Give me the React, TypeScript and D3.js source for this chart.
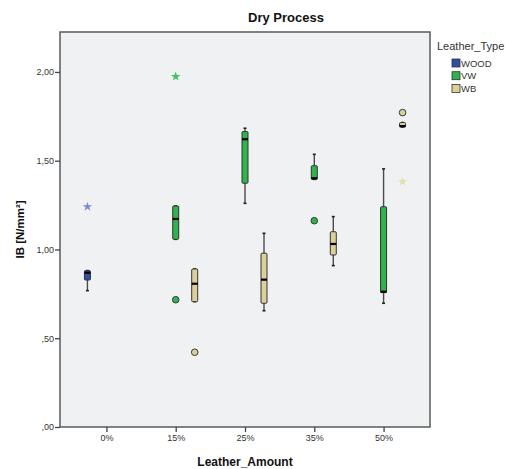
import React, { useRef, useEffect } from "react";
import * as d3 from "d3";

const categories = ["0%", "15%", "25%", "35%", "50%"];
const leatherTypes = ["WOOD", "VW", "WB"];
const yTicks = [0, 0.5, 1.0, 1.5, 2.0];

// [min, q1, median, q3, max] per category, null = no box
const woodBoxes = [[0.768, 0.828, 0.869, 0.881, 0.881], null, null, null, null];
const vwBoxes = [
  null,
  [1.057, 1.057, 1.172, 1.245, 1.245],
  [1.26, 1.373, 1.621, 1.664, 1.683],
  [1.395, 1.395, 1.401, 1.472, 1.536],
  [0.697, 0.757, 0.762, 1.241, 1.454],
];
const wbBoxes = [
  null,
  [0.706, 0.706, 0.807, 0.89, 0.89],
  [0.655, 0.697, 0.83, 0.979, 1.091],
  [0.909, 0.969, 1.031, 1.1, 1.185],
  [1.69, 1.69, 1.695, 1.715, 1.715],
];

const woodOutliers = [{ cat: "0%", value: 1.241, mark: "star" }];
const vwOutliers = [
  { cat: "15%", value: 1.974, mark: "star" },
  { cat: "15%", value: 0.717, mark: "circle" },
  { cat: "35%", value: 1.162, mark: "circle" },
];
const wbOutliers = [
  { cat: "15%", value: 0.421, mark: "circle" },
  { cat: "50%", value: 1.771, mark: "circle" },
  { cat: "50%", value: 1.382, mark: "star" },
];

const fills = { WOOD: "#2f4fa3", VW: "#2fb34b", WB: "#d9d09a" };
const starFills = { WOOD: "#7b88d6", VW: "#3fc45f", WB: "#e3dfae" };

const App = () => {
  const svgRef = useRef(null);

  useEffect(() => {
    const svg = d3.select(svgRef.current);
    svg.selectAll("*").remove();
    const left = 60,
      right = 430,
      top = 32,
      bottom = 427;

    const x = d3.scalePoint().domain(categories).range([left, right]).padding(0.67);
    const sub = d3.scalePoint().domain(leatherTypes).range([-19, 19]);
    const y = d3.scaleLinear().domain([0, 2.225]).range([bottom, top]);

    // plot background
    svg
      .append("rect")
      .attr("x", left)
      .attr("y", top)
      .attr("width", right - left)
      .attr("height", bottom - top)
      .attr("fill", "#f0f1f3")
      .attr("stroke", "#5a5a5a")
      .attr("stroke-width", 1.5);

    const fmt = (d) => {
      let s = d.toFixed(2).replace(".", ",");
      if (s.startsWith("0,")) s = s.slice(1);
      return s;
    };

    // Y axis
    const yAxis = svg
      .append("g")
      .attr("transform", `translate(${left},0)`)
      .call(d3.axisLeft(y).tickValues(yTicks).tickFormat(fmt).tickSize(5).tickSizeOuter(0));
    yAxis.select(".domain").remove();
    yAxis.selectAll("line").attr("stroke", "#444").attr("stroke-width", 1.3);
    yAxis
      .selectAll("text")
      .attr("font-family", "Arial, 'Liberation Sans', sans-serif")
      .attr("font-size", 9)
      .attr("fill", "#333")
      .attr("x", -6);

    // X axis
    const xAxis = svg
      .append("g")
      .attr("transform", `translate(0,${bottom})`)
      .call(d3.axisBottom(x).tickSize(5).tickSizeOuter(0));
    xAxis.select(".domain").remove();
    xAxis.selectAll("line").attr("stroke", "#444").attr("stroke-width", 1.3);
    xAxis
      .selectAll("text")
      .attr("font-family", "Arial, 'Liberation Sans', sans-serif")
      .attr("font-size", 9)
      .attr("fill", "#333")
      .attr("y", 8);

    const series = [
      { type: "WOOD", boxes: woodBoxes, outliers: woodOutliers },
      { type: "VW", boxes: vwBoxes, outliers: vwOutliers },
      { type: "WB", boxes: wbBoxes, outliers: wbOutliers },
    ];
    const bw = 6;

    series.forEach((s) => {
      s.boxes.forEach((b, i) => {
        if (!b) return;
        const cx = x(categories[i]) + sub(s.type);
        const [mn, q1, md, q3, mx] = b;
        const g = svg.append("g");
        // whiskers
        [
          [mn, q1],
          [q3, mx],
        ].forEach(([a, c]) => {
          if (c - a < 0.001) return;
          g.append("line")
            .attr("x1", cx)
            .attr("x2", cx)
            .attr("y1", y(a))
            .attr("y2", y(c))
            .attr("stroke", "#4a4a4a")
            .attr("stroke-width", 1.4);
        });
        [mn, mx].forEach((v) => {
          g.append("line")
            .attr("x1", cx - 1.5)
            .attr("x2", cx + 1.5)
            .attr("y1", y(v))
            .attr("y2", y(v))
            .attr("stroke", "#222")
            .attr("stroke-width", 1.6);
        });
        g.append("rect")
          .attr("x", cx - bw / 2)
          .attr("y", y(q3))
          .attr("width", bw)
          .attr("height", Math.max(y(q1) - y(q3), 1))
          .attr("rx", 1)
          .attr("fill", fills[s.type])
          .attr("stroke", "#333")
          .attr("stroke-width", 1);
        g.append("line")
          .attr("x1", cx - bw / 2)
          .attr("x2", cx + bw / 2)
          .attr("y1", y(md))
          .attr("y2", y(md))
          .attr("stroke", "#000")
          .attr("stroke-width", 2.2);
      });

      s.outliers.forEach((o) => {
        const cx = x(o.cat) + sub(s.type);
        if (o.mark === "circle") {
          svg
            .append("circle")
            .attr("cx", cx)
            .attr("cy", y(o.value))
            .attr("r", 3.3)
            .attr("fill", fills[s.type])
            .attr("stroke", "#3a3a3a")
            .attr("stroke-width", 1);
        } else {
          svg
            .append("path")
            .attr("transform", `translate(${cx},${y(o.value)})`)
            .attr("d", d3.symbol().type(d3.symbolStar).size(28)())
            .attr("fill", starFills[s.type]);
        }
      });
    });

    // Title and labels
    svg
      .append("text")
      .attr("x", 286)
      .attr("y", 22)
      .attr("text-anchor", "middle")
      .attr("font-family", "Arial, 'Liberation Sans', sans-serif")
      .attr("font-weight", "bold")
      .attr("font-size", 13)
      .attr("fill", "#111")
      .text("Dry Process");

    svg
      .append("text")
      .attr("x", 245)
      .attr("y", 466)
      .attr("text-anchor", "middle")
      .attr("font-family", "Arial, 'Liberation Sans', sans-serif")
      .attr("font-weight", "bold")
      .attr("font-size", 12)
      .attr("fill", "#111")
      .text("Leather_Amount");

    svg
      .append("text")
      .attr("transform", `translate(24,${(top + bottom) / 2}) rotate(-90)`)
      .attr("text-anchor", "middle")
      .attr("font-family", "Arial, 'Liberation Sans', sans-serif")
      .attr("font-weight", "bold")
      .attr("font-size", 11.5)
      .attr("fill", "#111")
      .text("IB [N/mm²]");

    // Legend
    svg
      .append("text")
      .attr("x", 437)
      .attr("y", 50)
      .attr("font-family", "Arial, 'Liberation Sans', sans-serif")
      .attr("font-size", 11)
      .attr("fill", "#333")
      .text("Leather_Type");
    leatherTypes.forEach((t, i) => {
      svg
        .append("rect")
        .attr("x", 452)
        .attr("y", 59 + i * 12.7)
        .attr("width", 8)
        .attr("height", 8)
        .attr("fill", fills[t])
        .attr("stroke", "#333")
        .attr("stroke-width", 0.8);
      svg
        .append("text")
        .attr("x", 461)
        .attr("y", 66.5 + i * 12.7)
        .attr("font-family", "Arial, 'Liberation Sans', sans-serif")
        .attr("font-size", 9.5)
        .attr("fill", "#333")
        .text(t);
    });
  }, []);

  return (
    <svg
      ref={svgRef}
      width={509}
      height={469}
      style={{ position: "absolute", left: 0, top: 0, background: "#fff", display: "block" }}
    ></svg>
  );
};

export default App;
